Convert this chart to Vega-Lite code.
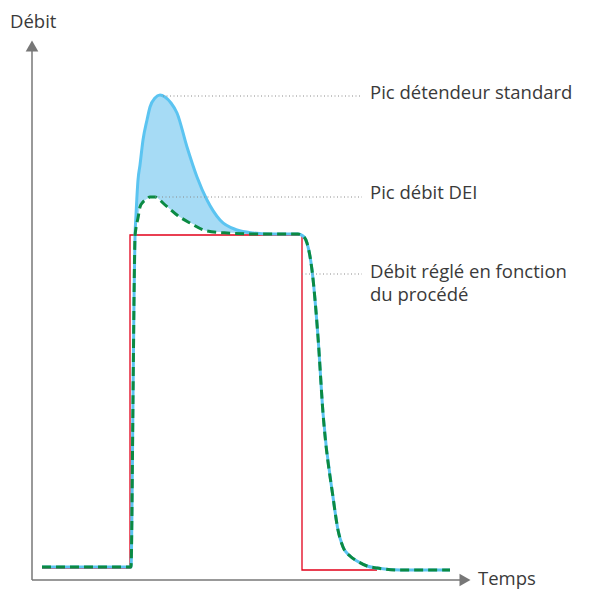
{
  "$schema": "https://vega.github.io/schema/vega-lite/v6.json",
  "width": 595,
  "height": 590,
  "autosize": {"type": "fit", "contains": "padding"},
  "padding": 0,
  "background": "white",
  "config": {"view": {"stroke": null}},
  "datasets": {
    "curves": [
      {"s": "blue", "o": 1, "t": 10, "f": 13}, {"s": "blue", "o": 2, "t": 99, "f": 13}, {"s": "blue", "o": 3, "t": 101, "f": 180}, {"s": "blue", "o": 4, "t": 102, "f": 280}, {"s": "blue", "o": 5, "t": 103, "f": 343}, {"s": "blue", "o": 6, "t": 104, "f": 365}, {"s": "blue", "o": 7, "t": 106, "f": 400}, {"s": "blue", "o": 8, "t": 108, "f": 415}, {"s": "blue", "o": 9, "t": 111, "f": 440}, {"s": "blue", "o": 10, "t": 115, "f": 460}, {"s": "blue", "o": 11, "t": 118, "f": 473}, {"s": "blue", "o": 12, "t": 123, "f": 482}, {"s": "blue", "o": 13, "t": 128, "f": 485}, {"s": "blue", "o": 14, "t": 133, "f": 483}, {"s": "blue", "o": 15, "t": 139, "f": 477}, {"s": "blue", "o": 16, "t": 145, "f": 467}, {"s": "blue", "o": 17, "t": 155, "f": 433}, {"s": "blue", "o": 18, "t": 165, "f": 403}, {"s": "blue", "o": 19, "t": 175, "f": 380}, {"s": "blue", "o": 20, "t": 188, "f": 360}, {"s": "blue", "o": 21, "t": 205, "f": 350}, {"s": "blue", "o": 22, "t": 221, "f": 347}, {"s": "blue", "o": 23, "t": 238, "f": 346}, {"s": "blue", "o": 24, "t": 266, "f": 346}, {"s": "blue", "o": 25, "t": 271, "f": 344}, {"s": "blue", "o": 26, "t": 275, "f": 337}, {"s": "blue", "o": 27, "t": 280, "f": 310}, {"s": "blue", "o": 28, "t": 286, "f": 243}, {"s": "blue", "o": 29, "t": 291, "f": 167}, {"s": "blue", "o": 30, "t": 301, "f": 83}, {"s": "blue", "o": 31, "t": 306, "f": 50}, {"s": "blue", "o": 32, "t": 311, "f": 33}, {"s": "blue", "o": 33, "t": 318, "f": 24}, {"s": "blue", "o": 34, "t": 325, "f": 19}, {"s": "blue", "o": 35, "t": 335, "f": 14}, {"s": "blue", "o": 36, "t": 345, "f": 12}, {"s": "blue", "o": 37, "t": 368, "f": 10}, {"s": "blue", "o": 38, "t": 418, "f": 10},
      {"s": "green", "o": 1, "t": 10, "f": 13}, {"s": "green", "o": 2, "t": 99, "f": 13}, {"s": "green", "o": 3, "t": 101, "f": 180}, {"s": "green", "o": 4, "t": 102, "f": 280}, {"s": "green", "o": 5, "t": 103, "f": 343}, {"s": "green", "o": 6, "t": 104, "f": 352}, {"s": "green", "o": 7, "t": 106, "f": 362}, {"s": "green", "o": 8, "t": 108, "f": 373}, {"s": "green", "o": 9, "t": 111, "f": 378}, {"s": "green", "o": 10, "t": 115, "f": 381}, {"s": "green", "o": 11, "t": 118, "f": 383}, {"s": "green", "o": 12, "t": 123, "f": 383}, {"s": "green", "o": 13, "t": 128, "f": 380}, {"s": "green", "o": 14, "t": 131, "f": 377}, {"s": "green", "o": 15, "t": 138, "f": 371}, {"s": "green", "o": 16, "t": 145, "f": 365}, {"s": "green", "o": 17, "t": 158, "f": 357}, {"s": "green", "o": 18, "t": 175, "f": 349}, {"s": "green", "o": 19, "t": 195, "f": 347}, {"s": "green", "o": 20, "t": 228, "f": 346}, {"s": "green", "o": 21, "t": 266, "f": 346}, {"s": "green", "o": 22, "t": 271, "f": 344}, {"s": "green", "o": 23, "t": 275, "f": 337}, {"s": "green", "o": 24, "t": 280, "f": 310}, {"s": "green", "o": 25, "t": 286, "f": 243}, {"s": "green", "o": 26, "t": 291, "f": 167}, {"s": "green", "o": 27, "t": 301, "f": 83}, {"s": "green", "o": 28, "t": 306, "f": 50}, {"s": "green", "o": 29, "t": 311, "f": 33}, {"s": "green", "o": 30, "t": 318, "f": 24}, {"s": "green", "o": 31, "t": 325, "f": 19}, {"s": "green", "o": 32, "t": 335, "f": 14}, {"s": "green", "o": 33, "t": 345, "f": 12}, {"s": "green", "o": 34, "t": 368, "f": 10}, {"s": "green", "o": 35, "t": 418, "f": 10}
    ],
    "red": [
      {"o": 1, "t": 10, "f": 12}, {"o": 2, "t": 98, "f": 12}, {"o": 3, "t": 98, "f": 345}, {"o": 4, "t": 270, "f": 345}, {"o": 5, "t": 270, "f": 10}, {"o": 6, "t": 345, "f": 10}
    ],
    "band": [
      {"t": 103, "top": 343, "bottom": 343}, {"t": 104, "top": 365, "bottom": 352}, {"t": 106, "top": 400, "bottom": 362}, {"t": 108, "top": 415, "bottom": 373}, {"t": 111, "top": 440, "bottom": 378}, {"t": 115, "top": 460, "bottom": 381}, {"t": 118, "top": 473, "bottom": 383}, {"t": 123, "top": 482, "bottom": 383}, {"t": 128, "top": 485, "bottom": 380}, {"t": 133, "top": 483, "bottom": 375}, {"t": 139, "top": 477, "bottom": 370}, {"t": 145, "top": 467, "bottom": 365}, {"t": 155, "top": 433, "bottom": 359}, {"t": 165, "top": 403, "bottom": 354}, {"t": 175, "top": 380, "bottom": 349}, {"t": 188, "top": 360, "bottom": 348}, {"t": 205, "top": 350, "bottom": 347}, {"t": 221, "top": 347, "bottom": 346}, {"t": 233, "top": 346, "bottom": 346}
    ],
    "leaders": [
      {"t": 131, "t2": 330, "f": 484}, {"t": 123, "t2": 330, "f": 383}, {"t": 270, "t2": 330, "f": 306}
    ],
    "notes": [
      {"t": 338, "f": 481.5, "label": "Pic détendeur standard"},
      {"t": 338, "f": 381, "label": "Pic débit DEI"},
      {"t": 338, "f": 302, "label": "Débit réglé en fonction"},
      {"t": 338, "f": 279, "label": "du procédé"}
    ],
    "axes": [
      {"t": 0, "t2": 0, "f": 0, "f2": 530},
      {"t": 0, "t2": 428, "f": 0, "f2": 0}
    ],
    "arrows": [
      {"t": 0, "f": 534, "shape": "triangle-up"},
      {"t": 433, "f": 0, "shape": "triangle-right"}
    ],
    "axislabels": [
      {"t": -22, "f": 552, "label": "Débit"},
      {"t": 446, "f": -5, "label": "Temps"}
    ]
  },
  "layer": [
    {
      "data": {"name": "band"},
      "mark": {"type": "area", "color": "#A6DBF5", "opacity": 1, "interpolate": "monotone"},
      "encoding": {
        "x": {"field": "t", "type": "quantitative", "scale": {"domain": [-32, 563], "nice": false, "zero": false}, "axis": null},
        "y": {"field": "top", "type": "quantitative", "scale": {"domain": [-10, 580], "nice": false, "zero": false}, "axis": null},
        "y2": {"field": "bottom"}
      }
    },
    {
      "data": {"name": "red"},
      "mark": {"type": "line", "color": "#E2001A", "strokeWidth": 1.3},
      "encoding": {
        "x": {"field": "t", "type": "quantitative", "scale": {"domain": [-32, 563], "nice": false, "zero": false}, "axis": null},
        "y": {"field": "f", "type": "quantitative", "scale": {"domain": [-10, 580], "nice": false, "zero": false}, "axis": null},
        "order": {"field": "o", "type": "quantitative"}
      }
    },
    {
      "data": {"name": "curves"},
      "transform": [{"filter": "datum.s === 'blue'"}],
      "mark": {"type": "line", "color": "#5BC4F1", "strokeWidth": 3, "interpolate": "monotone"},
      "encoding": {
        "x": {"field": "t", "type": "quantitative", "scale": {"domain": [-32, 563], "nice": false, "zero": false}, "axis": null},
        "y": {"field": "f", "type": "quantitative", "scale": {"domain": [-10, 580], "nice": false, "zero": false}, "axis": null},
        "order": {"field": "o", "type": "quantitative"}
      }
    },
    {
      "data": {"name": "curves"},
      "transform": [{"filter": "datum.s === 'green'"}],
      "mark": {"type": "line", "color": "#0B8A43", "strokeWidth": 3, "strokeDash": [9, 5], "interpolate": "monotone"},
      "encoding": {
        "x": {"field": "t", "type": "quantitative", "scale": {"domain": [-32, 563], "nice": false, "zero": false}, "axis": null},
        "y": {"field": "f", "type": "quantitative", "scale": {"domain": [-10, 580], "nice": false, "zero": false}, "axis": null},
        "order": {"field": "o", "type": "quantitative"}
      }
    },
    {
      "data": {"name": "leaders"},
      "mark": {"type": "rule", "color": "#8A8A8A", "strokeWidth": 1, "strokeDash": [1, 2.5]},
      "encoding": {
        "x": {"field": "t", "type": "quantitative", "scale": {"domain": [-32, 563], "nice": false, "zero": false}, "axis": null},
        "x2": {"field": "t2"},
        "y": {"field": "f", "type": "quantitative", "scale": {"domain": [-10, 580], "nice": false, "zero": false}, "axis": null}
      }
    },
    {
      "data": {"name": "notes"},
      "mark": {"type": "text", "align": "left", "baseline": "alphabetic", "font": "Open Sans", "fontSize": 18.5, "color": "#3A3A3A"},
      "encoding": {
        "x": {"field": "t", "type": "quantitative", "scale": {"domain": [-32, 563], "nice": false, "zero": false}, "axis": null},
        "y": {"field": "f", "type": "quantitative", "scale": {"domain": [-10, 580], "nice": false, "zero": false}, "axis": null},
        "text": {"field": "label"}
      }
    },
    {
      "data": {"name": "axes"},
      "mark": {"type": "rule", "color": "#777777", "strokeWidth": 1.5},
      "encoding": {
        "x": {"field": "t", "type": "quantitative", "scale": {"domain": [-32, 563], "nice": false, "zero": false}, "axis": null},
        "x2": {"field": "t2"},
        "y": {"field": "f", "type": "quantitative", "scale": {"domain": [-10, 580], "nice": false, "zero": false}, "axis": null},
        "y2": {"field": "f2"}
      }
    },
    {
      "data": {"name": "arrows"},
      "mark": {"type": "point", "filled": true, "color": "#777777", "opacity": 1, "size": 160},
      "encoding": {
        "x": {"field": "t", "type": "quantitative", "scale": {"domain": [-32, 563], "nice": false, "zero": false}, "axis": null},
        "y": {"field": "f", "type": "quantitative", "scale": {"domain": [-10, 580], "nice": false, "zero": false}, "axis": null},
        "shape": {"field": "shape", "type": "nominal", "scale": null}
      }
    },
    {
      "data": {"name": "axislabels"},
      "mark": {"type": "text", "align": "left", "baseline": "alphabetic", "font": "Open Sans", "fontSize": 18.5, "color": "#3A3A3A"},
      "encoding": {
        "x": {"field": "t", "type": "quantitative", "scale": {"domain": [-32, 563], "nice": false, "zero": false}, "axis": null},
        "y": {"field": "f", "type": "quantitative", "scale": {"domain": [-10, 580], "nice": false, "zero": false}, "axis": null},
        "text": {"field": "label"}
      }
    }
  ]
}
